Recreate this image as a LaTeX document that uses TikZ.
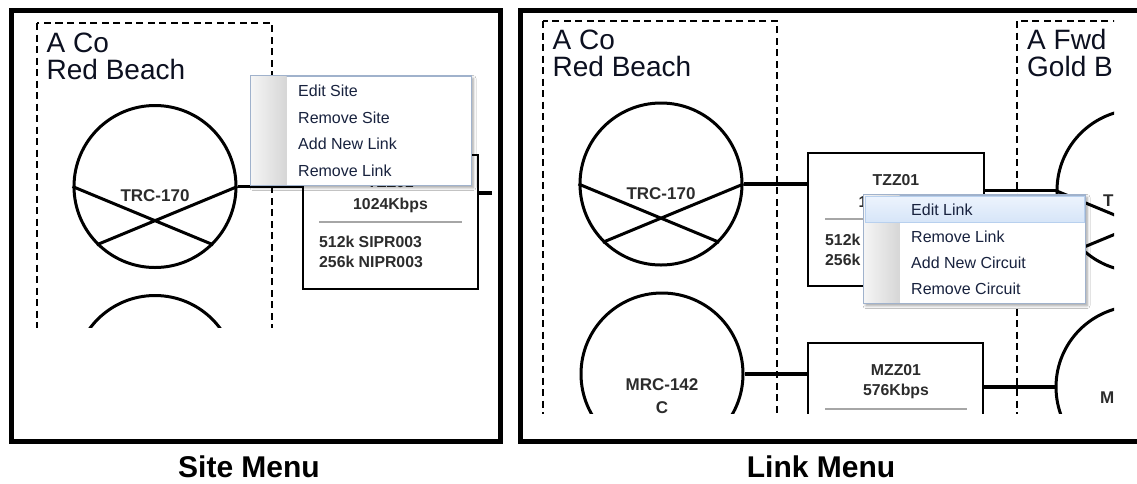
\documentclass[tikz,border=0pt]{standalone}
\usepackage{fontspec}
\setmainfont{Liberation Sans}
\usetikzlibrary{shadows.blur}
\definecolor{menutext}{RGB}{24,34,62}
\definecolor{menuborder}{RGB}{160,178,204}
\definecolor{boxtext}{RGB}{44,44,44}
\definecolor{sitetext}{RGB}{12,16,32}
\definecolor{hltop}{RGB}{236,243,253}
\definecolor{hlbot}{RGB}{214,229,248}
\definecolor{hlborder}{RGB}{184,208,238}
\begin{document}
\begin{tikzpicture}[x=1pt,y=-1pt,
  frame/.style={line width=5pt},
  dashbox/.style={line width=2.8pt,dash pattern=on 7pt off 4.5pt},
  site/.style={circle,draw,line width=3pt,minimum size=162pt,inner sep=0pt},
  linkbox/.style={rectangle,draw,line width=2.7pt,inner sep=0pt},
  xline/.style={line width=3pt},
  conn/.style={line width=3.8pt},
  sep/.style={line width=1.6pt,draw=black!35},
  sitename/.style={font=\fontsize{28}{29}\selectfont,text=sitetext,inner sep=0pt,anchor=base west},
  clabel/.style={font=\fontsize{17}{19}\selectfont\bfseries,text=boxtext,inner sep=0pt,anchor=base},
  btext/.style={font=\fontsize{15.8}{18}\selectfont\bfseries,text=boxtext,inner sep=0pt,anchor=base},
  ctext/.style={font=\fontsize{15.8}{18}\selectfont\bfseries,text=boxtext,inner sep=0pt,anchor=base west},
  menubox/.style={rectangle,fill=white,draw=menuborder,line width=1pt,inner sep=0pt,
    blur shadow={shadow xshift=2pt,shadow yshift=-2.5pt,shadow blur radius=3pt,shadow opacity=40}},
  mitem/.style={font=\fontsize{16}{18}\selectfont,text=menutext,inner sep=0pt,anchor=base west},
  caption/.style={font=\fontsize{30}{32}\selectfont\bfseries,text=black,inner sep=0pt,anchor=base}]
\useasboundingbox[fill=white] (0,0) rectangle (1137,483);

% ---------------- left panel: Site Menu ----------------
\begin{scope}
  \clip (13,12) rectangle (499,327.5);
  \draw[dashbox] (37,23) rectangle (272,600);
  \node[sitename] (l-n1) at (46.5,52) {A Co};
  \node[sitename] (l-n2) at (46.5,79) {Red Beach};
  \node[site] (c1) at (155,186.5) {};
  \draw[xline] (c1.west) -- (c1.-45) (c1.east) -- (c1.-135);
  \node[clabel] (c1l) at (155,201) {TRC-170};
  \node[site] (c1b) at (155,376.5) {};
  \node[linkbox,minimum width=175pt,minimum height=134pt] (box1) at (390.5,222) {};
  \draw[sep] (319,222) -- (462,222);
  \node[btext] (b1t) at (390.5,187.7) {TZZ01};
  \node[btext] (b1r) at (390.5,209.7) {1024Kbps};
  \node[ctext] (b1c1) at (319,247.7) {512k SIPR003};
  \node[ctext] (b1c2) at (319,267.7) {256k NIPR003};
  \coordinate (stub1) at (492,193);
  \draw[conn] (c1.east) -- (c1.east -| box1.west);
  \draw[conn] (stub1 -| box1.east) -- (stub1);
\end{scope}
\draw[frame] (11,10.5) rectangle (500.5,441);

% menu
\node[menubox,minimum width=220pt,minimum height=109pt] (m1) at (361,130.5) {};
\shade[left color=black!4,right color=black!16] ([shift={(0.5,0.5)}]m1.north west) rectangle ([shift={(36,-0.5)}]m1.south west);
\draw[menuborder,line width=1pt] (m1.north west) rectangle (m1.south east);
\node[mitem] (m1a) at (298,96.5) {Edit Site};
\node[mitem] (m1b) at (298,123) {Remove Site};
\node[mitem] (m1c) at (298,149.5) {Add New Link};
\node[mitem] (m1d) at (298,176) {Remove Link};

\node[caption] (cap1) at (249,477.5) {Site Menu};

% ---------------- right panel: Link Menu ----------------
\begin{scope}
  \clip (522,12) rectangle (1114,413.5);
  \draw[dashbox] (543,21) rectangle (777,600);
  \draw[dashbox] (1017,21) rectangle (1300,600);
  \node[sitename] (r-n1) at (552.5,49) {A Co};
  \node[sitename] (r-n2) at (552.5,76) {Red Beach};
  \node[sitename] (r-n3) at (1027,49) {A Fwd};
  \node[sitename] (r-n4) at (1027,76) {Gold B};
  \node[site] (c2) at (661,184) {};
  \draw[xline] (c2.west) -- (c2.-45) (c2.east) -- (c2.-135);
  \node[clabel] (c2l) at (661,199) {TRC-170};
  \node[site] (c3) at (1138,190.5) {};
  \draw[xline] (c3.west) -- (c3.-45) (c3.east) -- (c3.-135);
  \node[clabel,anchor=base west] (c3l) at (1103,206) {T};
  \node[site] (c4) at (662,374) {};
  \node[clabel] (c4l) at (662,390) {MRC-142};
  \node[clabel] (c4m) at (662,413) {C};
  \node[site] (c5) at (1137,387) {};
  \node[clabel,anchor=base west] (c5l) at (1100,403) {M};
  \node[linkbox,minimum width=176pt,minimum height=133pt] (box2) at (896,219.5) {};
  \draw[sep] (825,219) -- (968,219);
  \node[btext] (b2t) at (896,185.7) {TZZ01};
  \node[ctext] (b2r) at (858.5,207.7) {1};
  \node[ctext] (b2c1) at (825,245.7) {512k};
  \node[ctext] (b2c2) at (825,265.7) {256k};
  \node[linkbox,minimum width=175pt,minimum height=134pt] (box3) at (895.5,410) {};
  \draw[sep] (825,409) -- (967,409);
  \node[btext] (b3t) at (896,375.7) {MZZ01};
  \node[btext] (b3r) at (896,395.7) {576Kbps};
  \draw[conn] (c2.east) -- (c2.east -| box2.west);
  \draw[conn] (c3.west -| box2.east) -- (c3.west);
  \draw[conn] (c4.east) -- (c4.east -| box3.west);
  \draw[conn] (c5.west -| box3.east) -- (c5.west);
\end{scope}
\draw[frame] (520,10.5) rectangle (1150,441);

% menu
\node[menubox,minimum width=221pt,minimum height=108pt] (m2) at (974.5,249) {};
\shade[left color=black!4,right color=black!16] ([shift={(0.5,0.5)}]m2.north west) rectangle ([shift={(36,-0.5)}]m2.south west);
\draw[top color=hltop,bottom color=hlbot,draw=hlborder,line width=1pt] ([shift={(1.5,2)}]m2.north west) rectangle ([shift={(-1.5,28)}]m2.north east);
\draw[menuborder,line width=1pt] (m2.north west) rectangle (m2.south east);
\node[mitem] (m2a) at (911,215.5) {Edit Link};
\node[mitem] (m2b) at (911,242.5) {Remove Link};
\node[mitem] (m2c) at (911,268.5) {Add New Circuit};
\node[mitem] (m2d) at (911,294.5) {Remove Circuit};

\node[caption] (cap2) at (821,477.5) {Link Menu};
\end{tikzpicture}
\end{document}
